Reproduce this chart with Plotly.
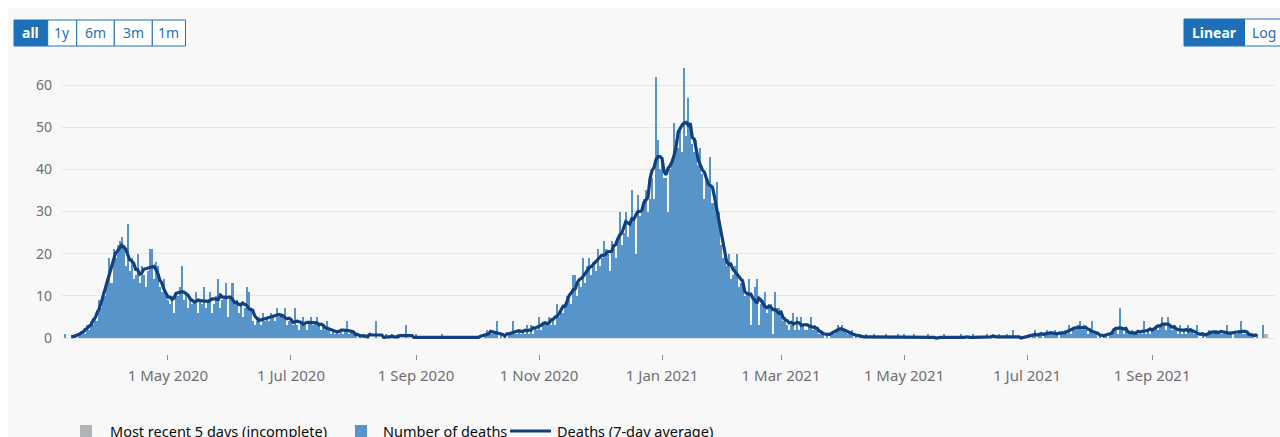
import pandas as pd
import plotly.graph_objects as go

# ---------------- DATA (daily deaths) ----------------
d2020_03 = [1, 0, 0, 0, 0, 1, 0, 1, 1, 2, 1, 3, 2, 4, 3, 5, 4, 9, 7, 11, 10]  # from 11 Mar
d2020_04 = [14, 19, 13, 21, 19, 22, 23, 24, 22, 17, 27, 16, 19, 14, 15, 20, 13, 17, 15, 12,
            16, 21, 21, 14, 18, 17, 12, 11, 14, 10]
d2020_05 = [9, 8, 10, 6, 11, 10, 12, 17, 9, 11, 7, 10, 8, 9, 11, 6, 9, 8, 12, 7,
            9, 11, 6, 8, 10, 14, 7, 9, 10, 13, 5]
d2020_06 = [10, 13, 8, 9, 6, 8, 5, 7, 12, 11, 7, 4, 3, 4, 5, 3, 6, 4, 5, 4,
            6, 5, 4, 7, 5, 6, 5, 7, 3, 4]
d2020_07 = [4, 3, 7, 3, 2, 4, 5, 3, 2, 4, 5, 3, 4, 5, 3, 2, 3, 2, 4, 2,
            1, 2, 1, 2, 1, 2, 1, 2, 4, 1, 2]
d2020_08 = [1, 1, 0, 1, 0, 1, 0, 1, 0, 0, 0, 4, 0, 0, 0, 0, 1, 0, 0, 1,
            0, 0, 1, 0, 0, 0, 3, 0, 0, 0, 0]
d2020_09 = [1, 0, 0, 0, 0, 0, 0, 0, 0, 0, 0, 0, 0, 1, 0, 0, 0, 0, 0, 0,
            0, 0, 0, 0, 0, 0, 0, 0, 0, 0]
d2020_10 = [0, 0, 0, 0, 1, 2, 1, 1, 1, 1, 4, 0, 1, 0, 0, 0, 1, 1, 4, 1,
            1, 2, 1, 2, 1, 3, 1, 3, 1, 2, 2]
d2020_11 = [5, 2, 3, 4, 3, 5, 3, 4, 3, 8, 5, 7, 6, 8, 10, 9, 8, 15, 15, 10,
            13, 12, 19, 13, 17, 19, 15, 18, 16, 21]
d2020_12 = [17, 19, 23, 21, 20, 16, 23, 21, 19, 24, 30, 22, 25, 30, 24, 27, 35, 28, 20, 34,
            29, 31, 33, 35, 30, 33, 38, 33, 62, 47, 40]
d2021_01 = [43, 38, 38, 30, 40, 42, 51, 47, 45, 49, 44, 64, 48, 57, 50, 46, 44, 47, 41, 45,
            39, 33, 38, 36, 43, 32, 34, 37, 30, 22, 19]
d2021_02 = [20, 17, 20, 14, 15, 17, 20, 12, 13, 14, 10, 11, 14, 3, 9, 12, 14, 3, 8, 9,
            11, 6, 7, 8, 1, 11, 7, 7]
d2021_03 = [6, 4, 5, 3, 2, 3, 6, 2, 5, 2, 5, 3, 2, 2, 3, 5, 2, 3, 2, 1,
            2, 1, 0, 1, 0, 1, 1, 2, 3, 2, 3]
d2021_04 = [2, 2, 1, 1, 2, 0, 1, 0, 1, 0, 0, 1, 0, 0, 0, 1, 0, 0, 0, 0,
            0, 1, 0, 0, 0, 0, 0, 1, 0, 0]
d2021_05 = [1, 0, 0, 0, 0, 1, 0, 0, 0, 0, 0, 0, 1, 0, 0, 0, 0, 0, 0, 0,
            1, 0, 0, 0, 0, 0, 0, 0, 1, 0, 0]
d2021_06 = [0, 0, 0, 1, 0, 0, 0, 0, 0, 0, 1, 0, 0, 1, 0, 0, 1, 0, 0, 0,
            1, 0, 0, 2, 0, 0, 0, 0, 0, 0]
d2021_07 = [0, 1, 0, 1, 2, 0, 1, 1, 0, 1, 2, 1, 1, 1, 2, 1, 0, 1, 1, 2,
            1, 3, 1, 2, 2, 3, 4, 2, 3, 2, 1]
d2021_08 = [2, 4, 1, 1, 0, 1, 0, 1, 1, 0, 1, 1, 2, 2, 1, 7, 2, 1, 2, 1,
            1, 2, 1, 1, 1, 1, 1, 4, 1, 2, 1]
d2021_09 = [2, 2, 3, 2, 3, 5, 3, 2, 5, 3, 2, 3, 2, 1, 3, 1, 2, 1, 3, 2,
            2, 1, 3, 0, 0, 1, 0, 1, 2, 1]
d2021_10 = [1, 2, 2, 1, 1, 1, 1, 3, 1, 1, 0, 1, 1, 2, 4, 1, 1, 1, 1, 1,
            1, 0, 1, 0, 0, 3]  # complete days up to 26 Oct
recent_incomplete = [1, 1, 0, 0, 0]  # 27-31 Oct 2021

month_starts = ["2020-03-11", "2020-04-01", "2020-05-01", "2020-06-01", "2020-07-01",
                "2020-08-01", "2020-09-01", "2020-10-01", "2020-11-01", "2020-12-01",
                "2021-01-01", "2021-02-01", "2021-03-01", "2021-04-01", "2021-05-01",
                "2021-06-01", "2021-07-01", "2021-08-01", "2021-09-01", "2021-10-01"]
month_values = [d2020_03, d2020_04, d2020_05, d2020_06, d2020_07, d2020_08, d2020_09,
                d2020_10, d2020_11, d2020_12, d2021_01, d2021_02, d2021_03, d2021_04,
                d2021_05, d2021_06, d2021_07, d2021_08, d2021_09, d2021_10]

tick_dates = ["2020-05-01", "2020-07-01", "2020-09-01", "2020-11-01", "2021-01-01",
              "2021-03-01", "2021-05-01", "2021-07-01", "2021-09-01"]
tick_text = ["1 May 2020", "1 Jul 2020", "1 Sep 2020", "1 Nov 2020", "1 Jan 2021",
             "1 Mar 2021", "1 May 2021", "1 Jul 2021", "1 Sep 2021"]
y_ticks = [0, 10, 20, 30, 40, 50, 60]

range_buttons = ["all", "1y", "6m", "3m", "1m"]
scale_buttons = ["Linear", "Log"]
legend_labels = ["Most recent 5 days (incomplete)", "Number of deaths", "Deaths (7-day average)"]

# ---------------- BUILD SERIES ----------------
parts = []
for start, vals in zip(month_starts, month_values):
    idx = pd.date_range(start, periods=len(vals), freq="D")
    parts.append(pd.Series(vals, index=idx, dtype=float))
daily = pd.concat(parts)
avg7 = daily.rolling(7, center=True).mean()
recent_dates = pd.date_range(daily.index[-1] + pd.Timedelta(days=1), periods=len(recent_incomplete), freq="D")

# ---------------- STYLE ----------------
FONT = "Noto Sans"
BG = "#f8f8f8"
BLUE_BAR = "#5694ca"
NAVY = "#12407f"
GREY_BAR = "#b1b4b6"
BTN_BLUE = "#1d70b8"
TEXT = "#0b0c0c"
AXIS_TXT = "#6f6f6f"

W, H = 1280, 437
L, R, T, B = 62, 5, 64, 83  # figure margins (figure placed at the page origin)
PW, PH = W - L - R, H - T - B


def px(x):  # page pixel -> paper x
    return (x - L) / PW


def py(y):  # page pixel -> paper y
    return (T + PH - y) / PH


fig = go.Figure()
fig.add_trace(go.Bar(x=recent_dates, y=recent_incomplete, name=legend_labels[0],
                     marker=dict(color=GREY_BAR, line=dict(width=0))))
fig.add_trace(go.Bar(x=daily.index, y=daily.values, name=legend_labels[1],
                     marker=dict(color=BLUE_BAR, line=dict(width=0))))
fig.add_trace(go.Scatter(x=avg7.index, y=avg7.values, mode="lines", name=legend_labels[2],
                         line=dict(color=NAVY, width=3.2)))

# y range so that 0 sits 16px above plot bottom (axis offset like the original)
ppu = 253 / 60.0
ymin = -16 / ppu
ymax = ymin + PH / ppu

shapes = []
annotations = []

# white page margin strips (left and top) like the original page
shapes.append(dict(type="rect", xref="paper", yref="paper", x0=px(0), x1=px(8), y0=py(H), y1=py(0),
                   fillcolor="white", line=dict(width=0), layer="below"))
shapes.append(dict(type="rect", xref="paper", yref="paper", x0=px(0), x1=px(W), y0=py(8), y1=py(0),
                   fillcolor="white", line=dict(width=0), layer="below"))

# range buttons
edges = [14, 47.7, 76.7, 114.3, 152.3, 185.5]
for i, lab in enumerate(range_buttons):
    sel = i == 0
    shapes.append(dict(type="rect", xref="paper", yref="paper",
                       x0=px(edges[i]), x1=px(edges[i + 1]), y0=py(46), y1=py(20),
                       fillcolor=BTN_BLUE if sel else "white",
                       line=dict(color=BTN_BLUE, width=1)))
    annotations.append(dict(xref="paper", yref="paper", x=px((edges[i] + edges[i + 1]) / 2), y=py(33),
                            text=f"<b>{lab}</b>" if sel else lab, showarrow=False,
                            font=dict(family=FONT, size=14, color="white" if sel else BTN_BLUE),
                            xanchor="center", yanchor="middle"))

# scale buttons
sedges = [1184, 1244.5, 1300]
for i, lab in enumerate(scale_buttons):
    sel = i == 0
    shapes.append(dict(type="rect", xref="paper", yref="paper",
                       x0=px(sedges[i]), x1=px(sedges[i + 1]), y0=py(46), y1=py(19),
                       fillcolor=BTN_BLUE if sel else "white",
                       line=dict(color=BTN_BLUE, width=1)))
    cx = (sedges[i] + sedges[i + 1]) / 2 if sel else 1264
    annotations.append(dict(xref="paper", yref="paper", x=px(cx), y=py(32.5),
                            text=f"<b>{lab}</b>" if sel else lab, showarrow=False,
                            font=dict(family=FONT, size=14, color="white" if sel else BTN_BLUE),
                            xanchor="center", yanchor="middle"))

# custom legend (bottom)
LEG_Y = 431
shapes.append(dict(type="rect", xref="paper", yref="paper", x0=px(80), x1=px(92),
                   y0=py(437), y1=py(425), fillcolor=GREY_BAR, line=dict(width=0)))
shapes.append(dict(type="rect", xref="paper", yref="paper", x0=px(355), x1=px(367),
                   y0=py(437), y1=py(425), fillcolor=BLUE_BAR, line=dict(width=0)))
shapes.append(dict(type="line", xref="paper", yref="paper", x0=px(510), x1=px(551),
                   y0=py(LEG_Y), y1=py(LEG_Y), line=dict(color=NAVY, width=3)))
for xleft, lab in zip([108, 381, 555], legend_labels):
    annotations.append(dict(xref="paper", yref="paper", x=px(xleft), y=py(LEG_Y), text=lab,
                            showarrow=False, xanchor="left", yanchor="middle",
                            font=dict(family=FONT, size=14.5, color=TEXT)))

fig.update_layout(
    width=W, height=H,
    margin=dict(l=L, r=R, t=T, b=B, pad=0),
    paper_bgcolor=BG, plot_bgcolor=BG,
    barmode="overlay", bargap=0,
    showlegend=False, hovermode=False,
    font=dict(family=FONT, size=14, color=AXIS_TXT),
    shapes=shapes, annotations=annotations,
    xaxis=dict(type="date", range=["2020-03-09 11:00", "2021-10-31 22:00"],
               tickmode="array", tickvals=tick_dates, ticktext=tick_text,
               showgrid=False, zeroline=False, showline=False,
               ticks="outside", ticklen=5, tickwidth=1, tickcolor="#8c8c8c",
               tickfont=dict(family=FONT, size=15, color=AXIS_TXT),
               ticklabelstandoff=3),
    yaxis=dict(range=[ymin, ymax], tickmode="array", tickvals=y_ticks,
               showgrid=True, gridcolor="#e6e6e6", gridwidth=1, zeroline=False,
               showline=False, ticks="", ticklabelstandoff=9,
               tickfont=dict(family=FONT, size=14, color=AXIS_TXT)),
)

# place the figure at the page origin (no default body margin, no scrollbars)
fig.write_html("out.html",
               config={"displayModeBar": False},
               post_script="document.body.style.margin='0';document.documentElement.style.overflow='hidden';")
